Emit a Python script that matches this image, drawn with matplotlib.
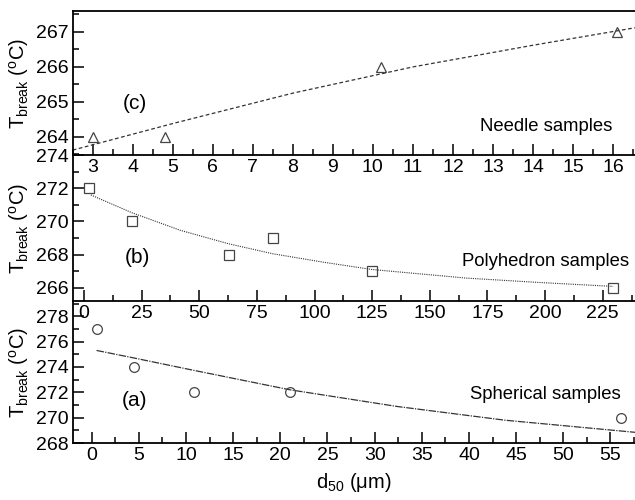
import matplotlib.pyplot as plt
from matplotlib.ticker import MultipleLocator

plt.rcParams['font.family'] = ['Liberation Sans', 'DejaVu Sans']
plt.rcParams['mathtext.fontset'] = 'custom'
plt.rcParams['mathtext.rm'] = 'Liberation Sans'
plt.rcParams['mathtext.it'] = 'Liberation Sans'

# (c) needle samples
needle_d = [3.0, 4.8, 10.2, 16.1]
needle_t = [264, 264, 266, 267]
needle_fit_d = [2.5, 5, 8, 11, 14, 16.55]
needle_fit_t = [263.62, 264.38, 265.25, 266.0, 266.62, 267.12]

# (b) polyhedron samples
poly_d = [2.0, 20.8, 62.7, 81.8, 124.8, 229.5]
poly_t = [272, 270, 268, 269, 267, 266]
poly_fit_d = [3, 20.8, 41.8, 62.7, 81.8, 103.8, 124.8, 165.9, 197, 229.5]
poly_fit_t = [271.59, 270.52, 269.46, 268.65, 268.05, 267.54, 267.1, 266.58, 266.32, 266.08]

# (a) spherical samples
sph_d = [0.53, 4.53, 10.9, 21.0, 56.1]
sph_t = [277, 274, 272, 272, 270]
sph_fit_d = [0.53, 4.53, 10.9, 21.0, 32.4, 43.8, 57.8]
sph_fit_t = [275.3, 274.7, 273.72, 272.2, 270.88, 269.8, 268.83]

fig = plt.figure(figsize=(6.35, 5.0), dpi=100)
L, W = 0.1145, 0.8855
ax_c = fig.add_axes([L, 0.69, W, 0.288])
ax_b = fig.add_axes([L, 0.398, W, 0.292])
ax_a = fig.add_axes([L, 0.114, W, 0.284])

mk = dict(ls='none', mfc='none', mec='#444444', mew=0.9, ms=7)
line_col = '#333333'

ax_c.plot(needle_fit_d, needle_fit_t, ls=(0, (3, 2)), color=line_col, lw=0.9)
ax_c.plot(needle_d, needle_t, marker='^', **mk)
ax_b.plot(poly_fit_d, poly_fit_t, ls=(0, (1, 1)), color=line_col, lw=0.8)
ax_b.plot(poly_d, poly_t, marker='s', **mk)
ax_a.plot(sph_fit_d, sph_fit_t, ls=(0, (6, 1, 1, 1)), color=line_col, lw=0.9)
ax_a.plot(sph_d, sph_t, marker='o', **mk)

ax_c.set_xlim(2.5, 16.55)
ax_c.set_ylim(263.48, 267.6)
ax_c.xaxis.set_major_locator(MultipleLocator(1))
ax_c.xaxis.set_minor_locator(MultipleLocator(0.5))
ax_c.yaxis.set_major_locator(MultipleLocator(1))
ax_c.yaxis.set_minor_locator(MultipleLocator(0.5))

ax_b.set_xlim(-4.9, 239)
ax_b.set_ylim(265.2, 274)
ax_b.xaxis.set_major_locator(MultipleLocator(25))
ax_b.xaxis.set_minor_locator(MultipleLocator(12.5))
ax_b.yaxis.set_major_locator(MultipleLocator(2))
ax_b.yaxis.set_minor_locator(MultipleLocator(1))

ax_a.set_xlim(-2, 57.6)
ax_a.set_ylim(268, 279.2)
ax_a.xaxis.set_major_locator(MultipleLocator(5))
ax_a.xaxis.set_minor_locator(MultipleLocator(2.5))
ax_a.yaxis.set_major_locator(MultipleLocator(2))
ax_a.yaxis.set_minor_locator(MultipleLocator(1))

ylab = r'T$_{\mathrm{break}}$ ($^{\mathrm{o}}$C)'
for ax in (ax_c, ax_b, ax_a):
    ax.set_facecolor('none')
    ax.spines['right'].set_visible(False)
    ax.spines['top'].set_visible(ax is ax_c)
    for s in ax.spines.values():
        s.set_linewidth(1.3)
    ax.tick_params(which='both', direction='in', labelsize=14, width=1.1, pad=3)
    ax.tick_params(which='major', length=8)
    ax.tick_params(which='minor', length=4)
    ax.set_ylabel(ylab, fontsize=14.5)
    ax.yaxis.set_label_coords(-0.074, 0.5)

ax_c.text(0.11, 0.36, '(c)', transform=ax_c.transAxes, fontsize=15, ha='center', va='center')
ax_b.text(0.115, 0.3, '(b)', transform=ax_b.transAxes, fontsize=15, ha='center', va='center')
ax_a.text(0.11, 0.3, '(a)', transform=ax_a.transAxes, fontsize=15, ha='center', va='center')
ax_c.text(0.96, 0.2, 'Needle samples', transform=ax_c.transAxes, fontsize=13.3, ha='right', va='center')
ax_b.text(0.99, 0.27, 'Polyhedron samples', transform=ax_b.transAxes, fontsize=13.3, ha='right', va='center')
ax_a.text(0.975, 0.34, 'Spherical samples', transform=ax_a.transAxes, fontsize=13.3, ha='right', va='center')

ax_a.set_xlabel(r'd$_{\mathrm{50}}$ ($\mathrm{\mu}$m)', fontsize=14.5, labelpad=5)

fig.savefig('out.png', dpi=100)
